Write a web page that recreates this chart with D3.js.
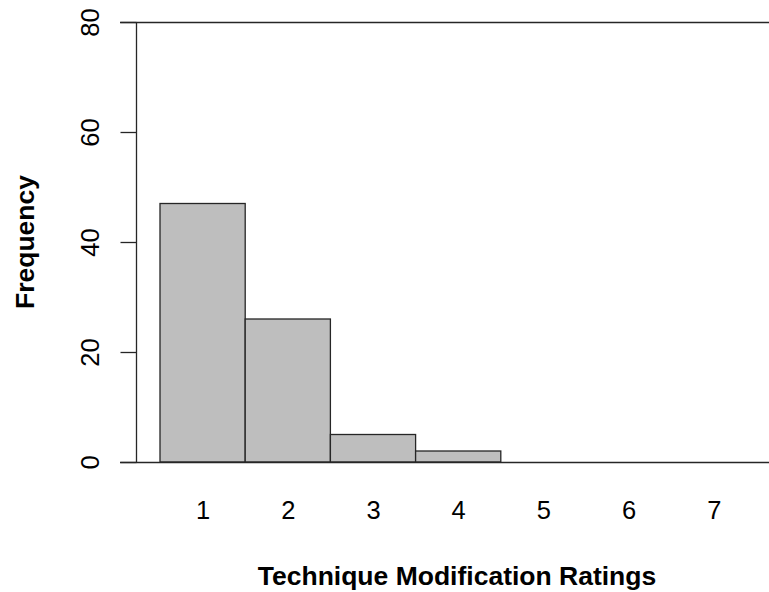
<!DOCTYPE html>
<html>
<head>
<meta charset="utf-8">
<script src="https://cdn.jsdelivr.net/npm/d3@7"></script>
<style>
  html, body { margin: 0; padding: 0; background: #fff; }
  svg { display: block; }
  text { font-family: "Liberation Sans", Arial, sans-serif; fill: #000; }
</style>
</head>
<body>
<svg id="chart" width="769" height="592"></svg>
<script>
const ratings = [1, 2, 3, 4, 5, 6, 7];
const frequencies = [47, 26, 5, 2, 0, 0, 0];
const yTicks = [0, 20, 40, 60, 80];
const xTickLabels = ["1", "2", "3", "4", "5", "6", "7"];
const xTitle = "Technique Modification Ratings";
const yTitle = "Frequency";

const W = 769, H = 592;
const svg = d3.select("#chart");

const x = d3.scaleLinear().domain([0.5, 4.5]).range([160, 500.8]);
const y = d3.scaleLinear().domain([0, 80]).range([462, 22]);
const axisX = 136.5;
const lineColor = "#262626";

// Bars
svg.append("g").selectAll("rect")
  .data(ratings.map((r, i) => ({ r, v: frequencies[i] })).filter(d => d.v > 0))
  .join("rect")
  .attr("x", d => x(d.r - 0.5))
  .attr("y", d => y(d.v))
  .attr("width", d => x(d.r + 0.5) - x(d.r - 0.5))
  .attr("height", d => y(0) - y(d.v))
  .attr("fill", "#bebebe")
  .attr("stroke", lineColor)
  .attr("stroke-width", 1.3);

// Horizontal lines at top (80) and baseline (0)
svg.append("g").selectAll("line")
  .data([0, 80])
  .join("line")
  .attr("x1", 120).attr("x2", W)
  .attr("y1", d => Math.round(y(d)) + 0.5)
  .attr("y2", d => Math.round(y(d)) + 0.5)
  .attr("stroke", lineColor)
  .attr("stroke-width", 1.3);

// Y axis
const yAxis = d3.axisLeft(y).tickValues(yTicks).tickSize(16).tickPadding(0).tickFormat(d3.format("d"));
const gy = svg.append("g").attr("transform", `translate(${axisX},0)`).call(yAxis);
gy.select(".domain").attr("d", `M0,${y(80)}V${y(0)}`).attr("stroke", lineColor).attr("stroke-width", 1.3);
gy.selectAll(".tick line").attr("stroke", lineColor).attr("stroke-width", 1.3);
gy.selectAll(".tick text")
  .attr("x", null).attr("dy", null)
  .attr("transform", "translate(-38,0) rotate(-90)")
  .attr("text-anchor", "middle")
  .style("font-family", "'Liberation Sans', Arial, sans-serif")
  .style("font-size", "25.5px")
  .attr("fill", "#000");

// X tick labels (no axis line)
const xAxis = d3.axisBottom(x).tickValues(ratings).tickSize(0).tickFormat((d, i) => xTickLabels[i]);
const gx = svg.append("g").call(xAxis);
gx.select(".domain").remove();
gx.selectAll(".tick text")
  .attr("y", 519).attr("dy", null)
  .style("font-family", "'Liberation Sans', Arial, sans-serif")
  .style("font-size", "25.5px")
  .attr("fill", "#000");

// Titles
svg.append("text")
  .attr("x", 457).attr("y", 585)
  .attr("text-anchor", "middle")
  .style("font-size", "26.5px").style("font-weight", "bold")
  .text(xTitle);

svg.append("text")
  .attr("transform", "translate(34,242) rotate(-90)")
  .attr("text-anchor", "middle")
  .style("font-size", "26.5px").style("font-weight", "bold")
  .text(yTitle);
</script>
</body>
</html>
